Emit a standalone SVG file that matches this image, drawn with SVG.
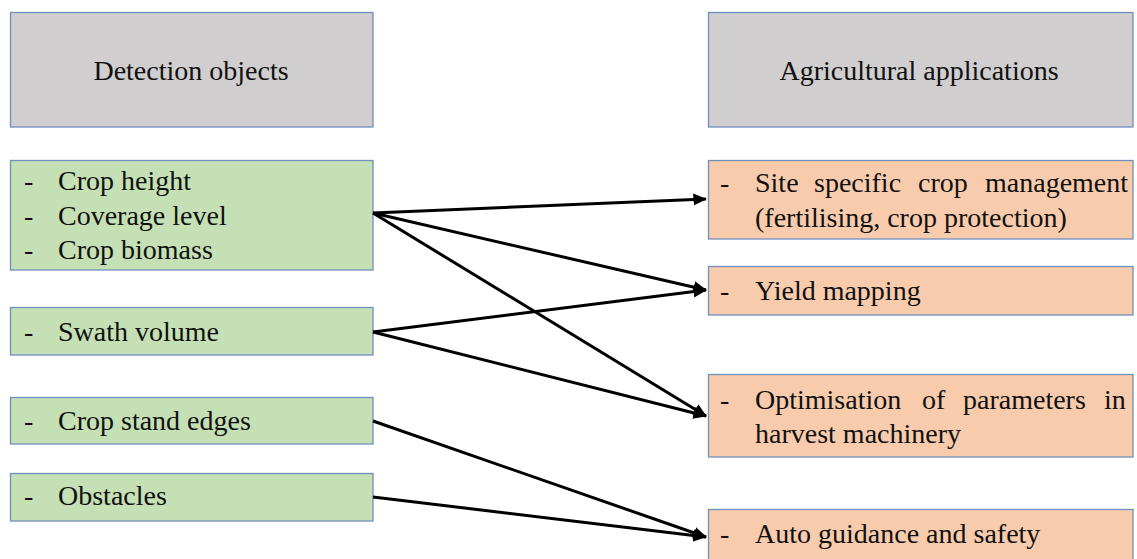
<svg xmlns="http://www.w3.org/2000/svg" width="1137" height="559" viewBox="0 0 1137 559">
<defs>
<marker id="ah" markerWidth="5" markerHeight="5" refX="4.2" refY="2.5" orient="auto" markerUnits="strokeWidth">
<path d="M0,0.5 L4.5,2.5 L0,4.5 Z" fill="#000"/>
</marker>
<style>
text{font-family:"Liberation Serif","Times New Roman",serif;font-size:28px;fill:#111;}
.head{fill:#D0CECE;stroke:#6F8FBE;stroke-width:1.3;}
.grn{fill:#C5E0B4;stroke:#6F8FBE;stroke-width:1.3;}
.org{fill:#F8CBAD;stroke:#6F8FBE;stroke-width:1.3;}
.c{fill:none;stroke:#000;stroke-width:3;marker-end:url(#ah);}
</style>
</defs>
<rect width="1137" height="559" fill="#fff"/>
<g id="detection-objects">
<rect class="head" x="10.5" y="12.5" width="362.5" height="114.5"/>
<text x="191" y="80" text-anchor="middle">Detection objects</text>
</g>
<g id="agricultural-applications">
<rect class="head" x="708.5" y="12.5" width="424.5" height="114.5"/>
<text x="919" y="80" text-anchor="middle">Agricultural applications</text>
</g>
<g id="crop-group">
<rect class="grn" x="10.5" y="160.5" width="362.5" height="109.5"/>
<text x="24" y="190">-</text><text x="58" y="190">Crop height</text>
<text x="24" y="225">-</text><text x="58" y="225">Coverage level</text>
<text x="24" y="259">-</text><text x="58" y="259">Crop biomass</text>
</g>
<g id="swath-volume">
<rect class="grn" x="10.5" y="307.5" width="362.5" height="47.5"/>
<text x="24" y="341">-</text><text x="58" y="341">Swath volume</text>
</g>
<g id="crop-stand-edges">
<rect class="grn" x="10.5" y="397.5" width="362.5" height="46.5"/>
<text x="24" y="430">-</text><text x="58" y="430">Crop stand edges</text>
</g>
<g id="obstacles">
<rect class="grn" x="10.5" y="473.5" width="362.5" height="47.5"/>
<text x="24" y="505">-</text><text x="58" y="505">Obstacles</text>
</g>
<g id="site-specific">
<rect class="org" x="708.5" y="160.5" width="424.5" height="78.5"/>
<text x="720" y="192">-</text>
<text y="192"><tspan x="755">Site</tspan><tspan x="814">specific</tspan><tspan x="918">crop</tspan><tspan x="985">management</tspan></text>
<text x="755" y="227">(fertilising,  crop protection)</text>
</g>
<g id="yield-mapping">
<rect class="org" x="708.5" y="266.5" width="424.5" height="48.5"/>
<text x="720" y="300">-</text><text x="755" y="300">Yield mapping</text>
</g>
<g id="optimisation">
<rect class="org" x="708.5" y="374.5" width="424.5" height="82.5"/>
<text x="720" y="409">-</text>
<text y="409"><tspan x="755">Optimisation</tspan><tspan x="922">of</tspan><tspan x="963">parameters</tspan><tspan x="1104">in</tspan></text>
<text x="755" y="443">harvest machinery</text>
</g>
<g id="auto-guidance">
<rect class="org" x="708.5" y="509.5" width="424.5" height="60"/>
<text x="720" y="543">-</text><text x="755" y="543">Auto guidance and safety</text>
</g>
<g id="connectors">
<line class="c" x1="373" y1="213" x2="706" y2="199"/>
<line class="c" x1="373" y1="213" x2="706" y2="290"/>
<line class="c" x1="373" y1="213" x2="706" y2="416"/>
<line class="c" x1="373" y1="332" x2="706" y2="290"/>
<line class="c" x1="373" y1="332" x2="706" y2="416"/>
<line class="c" x1="373" y1="421" x2="706" y2="537"/>
<line class="c" x1="373" y1="497" x2="706" y2="537"/>
</g>
</svg>
